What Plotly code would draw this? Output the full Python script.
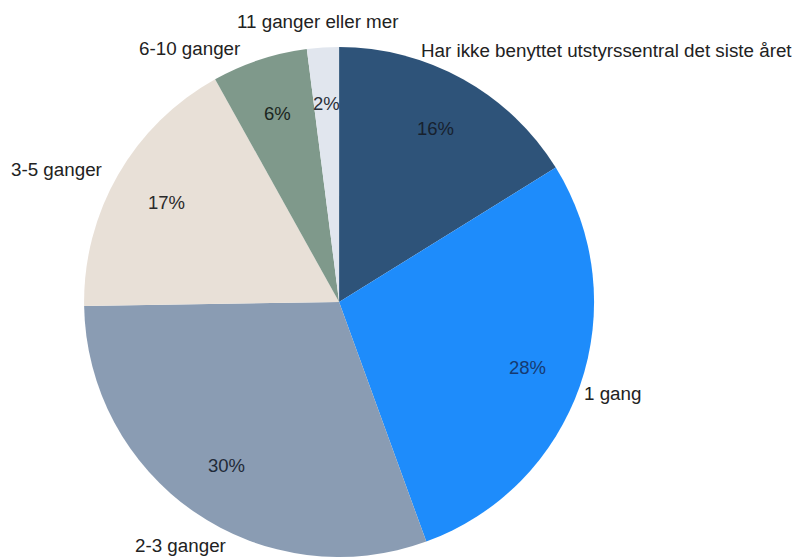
import numpy as np
import plotly.graph_objects as go

# Survey answers: how often the equipment centre was used in the last year
categories = [
    "Har ikke benyttet utstyrssentral det siste året",
    "1 gang",
    "2-3 ganger",
    "3-5 ganger",
    "6-10 ganger",
    "11 ganger eller mer",
]
shares = [16, 28, 30, 17, 6, 2]
colors = ["#2e5379", "#1e8cfb", "#8a9cb3", "#e8e0d7", "#7f998b", "#e1e6ee"]
pct_colors = ["#17212e", "#163a70", "#1f2a38", "#2a2a2a", "#1b2620", "#2a2f38"]

# Category name placement (pixels, left-anchored)
name_pos = [
    (419, 50),
    (582, 393),
    (133, 545),
    (9, 169),
    (137, 48),
    (235, 22),
]

W, H = 802, 557
FONT = "Liberation Sans, Arial, sans-serif"
dom_x = [0.1, 0.7456]
dom_y = [0.0, 0.9156]

fig = go.Figure(
    go.Pie(
        labels=categories,
        values=shares,
        sort=False,
        direction="clockwise",
        rotation=0,
        marker=dict(colors=colors, line=dict(width=0)),
        textinfo="none",
        domain=dict(x=dom_x, y=dom_y),
        showlegend=False,
        hoverinfo="label+percent",
    )
)

# Percentage labels placed along each slice's mid-angle
radius_px = min((dom_x[1] - dom_x[0]) * W, (dom_y[1] - dom_y[0]) * H) / 2
cx = (dom_x[0] + dom_x[1]) / 2 * W
cy = (1 - (dom_y[0] + dom_y[1]) / 2) * H
vals = np.array(shares, dtype=float)
ends = np.cumsum(vals) / vals.sum()
mids = (ends - vals / vals.sum() / 2) * 2 * np.pi
label_r = 0.78 * radius_px
for v, a, c in zip(shares, mids, pct_colors):
    px = cx + label_r * np.sin(a)
    py = cy - label_r * np.cos(a)
    fig.add_annotation(
        x=px / W, y=1 - py / H, xref="paper", yref="paper",
        text=f"{v}%", showarrow=False, xanchor="center", yanchor="middle",
        font=dict(family=FONT, size=18.5, color=c),
    )

for name, (px, py) in zip(categories, name_pos):
    fig.add_annotation(
        x=px / W, y=1 - py / H, xref="paper", yref="paper",
        text=name, showarrow=False, xanchor="left", yanchor="middle",
        font=dict(family=FONT, size=18.8, color="#222222"),
    )

fig.update_layout(
    width=W, height=H,
    margin=dict(l=0, r=0, t=0, b=0),
    paper_bgcolor="white",
    plot_bgcolor="white",
)

fig.write_html("out.html")
